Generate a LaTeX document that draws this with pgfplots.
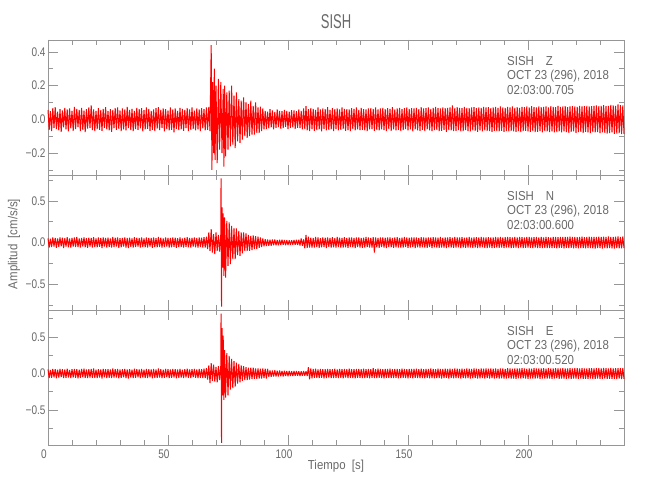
\documentclass[border=0pt]{standalone}
\usepackage{pgfplots}
\pgfplotsset{compat=1.18}
\usepackage{fontspec}
\setmainfont{Liberation Sans}[FakeStretch=0.8]
\newfontfamily\titlefont{Liberation Sans}[FakeStretch=0.65]
\newfontfamily\infofont{Liberation Sans}[FakeStretch=0.88]
\definecolor{axgray}{RGB}{150,150,150}
\definecolor{txtgray}{RGB}{105,105,105}
\newcommand\tsz{\fontsize{12.5}{14}\selectfont}
\newcommand\isz{\infofont\fontsize{13}{15}\selectfont}
\pgfplotsset{
  seis/.style={
    width=576pt, height=135pt, scale only axis, anchor=south west,
    xmin=0, xmax=240, clip=false,
    axis line style={draw=axgray, line width=0.6pt},
    every tick/.style={draw=axgray, line width=0.6pt},
    major tick length=10pt, minor tick length=5pt,
    tick align=inside, xtick pos=both, ytick pos=both,
    xtick={0,50,100,150,200}, minor xtick={0,10,...,240},
    tick label style={font=\tsz, text=txtgray},
    yticklabel style={xshift=1pt},
    xticklabel style={xshift=-4pt, yshift=-1pt},
  },
  trace/.style={color=red, draw=red, mark=none, line width=1.0pt, line join=bevel},
}
\begin{document}
\begin{tikzpicture}[x=1pt,y=1pt]
\useasboundingbox (0,0) rectangle (650,500);
% ---------------- Panel 1 : Z
\begin{axis}[seis, at={(48pt,325pt)},
  ymin=-0.33, ymax=0.47,
  ytick={-0.2,0,0.2,0.4}, yticklabels={−0.2,0.0,0.2,0.4},
  minor ytick={-0.3,-0.1,0.1,0.3}, xticklabels={}]
\addplot[trace] coordinates {
(0,.055)(0.5,-.062)(1,.048)(1.5,-.07)(2,.066)(2.5,-.05)(3,.072)(3.5,-.058)(4,.045)(4.5,-.066)(5,.06)(5.5,-.074)(6,.052)(6.5,-.048)(7,.068)(7.5,-.06)(8,.058)(8.5,-.072)(9,.064)(9.5,-.054)
(10,.05)(10.5,-.068)(11,.074)(11.5,-.058)(12,.062)(12.5,-.046)(13,.056)(13.5,-.07)(14,.068)(14.5,-.062)(15,.052)(15.5,-.076)(16,.06)(16.5,-.055)(17,.07)(17.5,-.05)(18,.082)(18.5,-.064)(19,.058)(19.5,-.07)
(20,.05)(20.5,-.058)(21,.066)(21.5,-.062)(22,.054)(22.5,-.068)(23,.062)(23.5,-.05)(24,.072)(24.5,-.06)(25,.048)(25.5,-.066)(26,.06)(26.5,-.074)(27,.056)(27.5,-.052)(28,.066)(28.5,-.062)(29,.07)(29.5,-.056)
(30,.052)(30.5,-.07)(31,.064)(31.5,-.06)(32,.058)(32.5,-.066)(33,.074)(33.5,-.052)(34,.056)(34.5,-.064)(35,.062)(35.5,-.07)(36,.05)(36.5,-.058)(37,.068)(37.5,-.062)(38,.06)(38.5,-.054)(39,.066)(39.5,-.072)
(40,.054)(40.5,-.06)(41,.07)(41.5,-.056)(42,.062)(42.5,-.068)(43,.05)(43.5,-.062)(44,.058)(44.5,-.07)(45,.066)(45.5,-.055)(46,.072)(46.5,-.064)(47,.056)(47.5,-.05)(48,.064)(48.5,-.072)(49,.06)(49.5,-.058)
(50,.052)(50.5,-.066)(51,.07)(51.5,-.062)(52,.058)(52.5,-.078)(53,.064)(53.5,-.056)(54,.05)(54.5,-.064)(55,.068)(55.5,-.06)(56,.062)(56.5,-.068)(57,.056)(57.5,-.052)(58,.066)(58.5,-.07)(59,.058)(59.5,-.062)
(60,.07)(60.5,-.056)(61,.052)(61.5,-.066)(62,.064)(62.5,-.06)(63,.058)(63.5,-.07)(64,.066)(64.5,-.054)(65,.06)(65.5,-.066)(66,.07)(66.5,-.062)(67,.074)(67.5,-.07)
(68,.44)(68.3,-.30)(68.6,.22)(69,-.20)(69.3,.30)(69.6,-.24)(70,.20)(70.5,-.26)(71,.24)(71.5,-.18)(72,.22)(72.5,-.20)(73,.18)(73.3,-.28)(73.6,.20)(74,-.22)(74.5,.16)(75,-.18)(75.5,.17)(76,-.16)
(76.5,.20)(77,-.15)(77.5,.14)(78,-.17)(78.5,.16)(79,-.13)(79.5,.12)(80,-.14)(80.5,.11)(81,-.12)(81.5,.13)(82,-.10)(82.5,.10)(83,-.11)(83.5,.09)(84,-.10)(84.5,.11)(85,-.09)(85.5,.08)(86,-.09)
(86.5,.10)(87,-.08)(87.5,.07)(88,-.08)(88.5,.075)(89,-.07)(89.5,.065)(90,-.06)
(90.5,.05)(91,-.058)(91.5,.046)(92,-.054)(92.5,.06)(93,-.048)(93.5,.052)(94,-.06)(94.5,.044)(95,-.05)(95.5,.058)(96,-.046)(96.5,.05)(97,-.056)(97.5,.048)(98,-.052)(98.5,.056)(99,-.044)(99.5,.05)(100,-.058)
(100.5,.046)(101,-.05)(101.5,.054)(102,-.048)(102.5,.052)(103,-.056)(103.5,.048)(104,-.05)(104.5,.058)(105,-.052)(105.5,.05)(106,-.06)(106.5,.064)(107,-.058)(107.5,.078)(108,-.066)(108.5,.06)(109,-.07)(109.5,.066)(110,-.058)
(110.5,.062)(111,-.068)(111.5,.056)(112,-.064)(112.5,.07)(113,-.06)(113.5,.058)(114,-.072)(114.5,.064)(115,-.056)(115.5,.06)(116,-.066)(116.5,.072)(117,-.062)(117.5,.056)(118,-.06)(118.5,.066)(119,-.07)(119.5,.06)(120,-.058)
(120.5,.064)(121,-.066)(121.5,.058)(122,-.062)(122.5,.07)(123,-.056)(123.5,.062)(124,-.068)(124.5,.06)(125,-.064)(125.5,.058)(126,-.07)(126.5,.066)(127,-.058)(127.5,.062)(128,-.066)(128.5,.07)(129,-.06)(129.5,.056)(130,-.064)
(130.5,.068)(131,-.062)(131.5,.06)(132,-.066)(132.5,.058)(133,-.07)(133.5,.064)(134,-.06)(134.5,.066)(135,-.058)(135.5,.062)(136,-.068)(136.5,.07)(137,-.062)(137.5,.058)(138,-.066)(138.5,.064)(139,-.06)(139.5,.068)(140,-.064)
(140.5,.06)(141,-.07)(141.5,.066)(142,-.058)(142.5,.062)(143,-.068)(143.5,.072)(144,-.06)(144.5,.058)(145,-.066)(145.5,.064)(146,-.062)(146.5,.068)(147,-.07)(147.5,.06)(148,-.064)(148.5,.066)(149,-.058)(149.5,.07)(150,-.066)
(150.5,.062)(151,-.06)(151.5,.066)(152,-.072)(152.5,.064)(153,-.06)(153.5,.068)(154,-.066)(154.5,.06)(155,-.068)(155.5,.072)(156,-.062)(156.5,.064)(157,-.07)(157.5,.066)(158,-.06)(158.5,.07)(159,-.066)(159.5,.062)(160,-.07)
(160.5,.068)(161,-.064)(161.5,.074)(162,-.062)(162.5,.066)(163,-.07)(163.5,.064)(164,-.068)(164.5,.07)(165,-.062)(165.5,.066)(166,-.074)(166.5,.068)(167,-.064)(167.5,.07)(168,-.066)(168.5,.082)(169,-.07)(169.5,.066)(170,-.068)
(170.5,.072)(171,-.064)(171.5,.068)(172,-.072)(172.5,.066)(173,-.07)(173.5,.074)(174,-.064)(174.5,.068)(175,-.07)(175.5,.066)(176,-.072)(176.5,.07)(177,-.066)(177.5,.072)(178,-.068)(178.5,.066)(179,-.074)(179.5,.07)(180,-.066)
(180.5,.068)(181,-.072)(181.5,.074)(182,-.066)(182.5,.07)(183,-.068)(183.5,.072)(184,-.07)(184.5,.066)(185,-.074)(185.5,.07)(186,-.068)(186.5,.074)(187,-.07)(187.5,.068)(188,-.072)(188.5,.076)(189,-.068)(189.5,.07)(190,-.074)
(190.5,.068)(191,-.07)(191.5,.074)(192,-.072)(192.5,.07)(193,-.068)(193.5,.076)(194,-.072)(194.5,.068)(195,-.074)(195.5,.072)(196,-.07)(196.5,.068)(197,-.076)(197.5,.074)(198,-.07)(198.5,.072)(199,-.068)(199.5,.076)(200,-.072)
(200.5,.07)(201,-.074)(201.5,.078)(202,-.07)(202.5,.072)(203,-.076)(203.5,.07)(204,-.074)(204.5,.076)(205,-.07)(205.5,.072)(206,-.078)(206.5,.074)(207,-.07)(207.5,.076)(208,-.072)(208.5,.07)(209,-.076)(209.5,.078)(210,-.072)
(210.5,.074)(211,-.078)(211.5,.072)(212,-.076)(212.5,.08)(213,-.072)(213.5,.074)(214,-.078)(214.5,.076)(215,-.072)(215.5,.078)(216,-.076)(216.5,.072)(217,-.08)(217.5,.076)(218,-.074)(218.5,.078)(219,-.072)(219.5,.076)(220,-.08)
(220.5,.074)(221,-.076)(221.5,.08)(222,-.074)(222.5,.076)(223,-.08)(223.5,.078)(224,-.074)(224.5,.08)(225,-.078)(225.5,.076)(226,-.082)(226.5,.078)(227,-.076)(227.5,.08)(228,-.078)(228.5,.082)(229,-.076)(229.5,.078)(230,-.082)
(230.5,.08)(231,-.078)(231.5,.084)(232,-.08)(232.5,.078)(233,-.084)(233.5,.08)(234,-.082)(234.5,.086)(235,-.078)(235.5,.082)(236,-.086)(236.5,.08)(237,-.084)(237.5,.088)(238,-.082)(238.5,.084)(239,-.088)(239.5,.082)(240,-.086)
};
\end{axis}
% ---------------- Panel 2 : N
\begin{axis}[seis, at={(48pt,190pt)},
  ymin=-0.81, ymax=0.81,
  ytick={-0.5,0,0.5}, yticklabels={−0.5,0.0,0.5},
  minor ytick={-0.75,-0.25,0.25,0.75}, xticklabels={}]
\addplot[trace] coordinates {
(0,.05)(0.5,-.06)(1,.045)(1.5,-.055)(2,.062)(2.5,-.048)(3,.056)(3.5,-.064)(4,.05)(4.5,-.052)(5,.06)(5.5,-.046)(6,.058)(6.5,-.066)(7,.052)(7.5,-.05)(8,.064)(8.5,-.058)(9,.048)(9.5,-.062)
(10,.056)(10.5,-.05)(11,.06)(11.5,-.054)(12,.068)(12.5,-.056)(13,.05)(13.5,-.06)(14,.054)(14.5,-.048)(15,.062)(15.5,-.058)(16,.052)(16.5,-.064)(17,.058)(17.5,-.05)(18,.056)(18.5,-.06)(19,.064)(19.5,-.054)
(20,.05)(20.5,-.058)(21,.06)(21.5,-.052)(22,.056)(22.5,-.066)(23,.062)(23.5,-.05)(24,.054)(24.5,-.06)(25,.058)(25.5,-.056)(26,.05)(26.5,-.062)(27,.066)(27.5,-.054)(28,.058)(28.5,-.05)(29,.06)(29.5,-.064)
(30,.052)(30.5,-.058)(31,.056)(31.5,-.05)(32,.062)(32.5,-.06)(33,.054)(33.5,-.068)(34,.058)(34.5,-.052)(35,.05)(35.5,-.06)(36,.064)(36.5,-.056)(37,.058)(37.5,-.05)(38,.054)(38.5,-.062)(39,.06)(39.5,-.054)
(40,.05)(40.5,-.058)(41,.062)(41.5,-.06)(42,.056)(42.5,-.05)(43,.054)(43.5,-.064)(44,.06)(44.5,-.056)(45,.052)(45.5,-.058)(46,.066)(46.5,-.054)(47,.058)(47.5,-.06)(48,.05)(48.5,-.056)(49,.062)(49.5,-.05)
(50,.056)(50.5,-.062)(51,.054)(51.5,-.058)(52,.06)(52.5,-.052)(53,.058)(53.5,-.064)(54,.052)(54.5,-.056)(55,.062)(55.5,-.054)(56,.05)(56.5,-.06)(57,.058)(57.5,-.052)(58,.064)(58.5,-.058)(59,.054)(59.5,-.06)
(60,.056)(60.5,-.05)(61,.062)(61.5,-.058)(62,.054)(62.5,-.062)(63,.06)(63.5,-.056)(64,.058)(64.5,-.06)(65,.064)(65.5,-.062)(66,.07)(66.5,-.08)(67,.12)(67.5,-.10)(68,.16)(68.5,-.12)(69,.10)(69.5,-.14)
(70,.12)(70.5,-.10)(71,.09)(71.5,-.11)(72,.10)(72.1,.77)(72.3,-.77)(72.5,.42)(72.8,-.30)(73,.35)(73.3,-.40)(73.6,.30)(74,-.42)(74.5,.26)(75,-.28)(75.5,.24)(76,-.26)(76.5,.20)(77,-.20)(77.5,.17)
(78,-.20)(78.5,.17)(79,-.15)(79.5,.14)(80,-.16)(80.5,.12)(81,-.13)(81.5,.12)(82,-.10)(82.5,.11)(83,-.10)(83.5,.09)(84,-.10)(84.5,.08)(85,-.09)(85.5,.085)(86,-.08)(86.5,.075)(87,-.08)(87.5,.07)
(88,-.065)(88.5,.06)(89,-.055)(89.5,.05)(90,-.045)(90.5,.04)(91,-.042)(91.5,.036)(92,-.04)(92.5,.034)(93,-.038)(93.5,.035)(94,-.032)(94.5,.036)(95,-.034)(95.5,.03)(96,-.034)(96.5,.032)(97,-.03)(97.5,.034)
(98,-.028)(98.5,.03)(99,-.032)(99.5,.028)(100,-.03)(100.5,.026)(101,-.03)(101.5,.028)(102,-.026)(102.5,.03)(103,-.028)(103.5,.032)(104,-.03)(104.5,.034)(105,-.036)(105.5,.05)(106,-.04)(106.5,.038)(107,-.07)(107.5,.09)
(108,-.064)(108.5,.07)(109,-.06)(109.5,.058)(110,-.062)(110.5,.054)(111,-.06)(111.5,.066)(112,-.056)(112.5,.06)(113,-.064)(113.5,.052)(114,-.058)(114.5,.062)(115,-.054)(115.5,.058)(116,-.066)(116.5,.06)(117,-.052)(117.5,.056)
(118,-.062)(118.5,.064)(119,-.058)(119.5,.052)(120,-.06)(120.5,.066)(121,-.056)(121.5,.058)(122,-.062)(122.5,.054)(123,-.06)(123.5,.064)(124,-.058)(124.5,.056)(125,-.064)(125.5,.06)(126,-.054)(126.5,.062)(127,-.058)(127.5,.056)
(128,-.066)(128.5,.06)(129,-.056)(129.5,.062)(130,-.06)(130.5,.054)(131,-.064)(131.5,.058)(132,-.06)(132.5,.066)(133,-.056)(133.5,.06)(134,-.062)(134.5,.056)(135,-.06)(135.5,.064)(136,-.12)(136.5,.062)(137,-.058)(137.5,.056)
(138,-.064)(138.5,.06)(139,-.056)(139.5,.062)(140,-.06)(140.5,.058)(141,-.066)(141.5,.06)(142,-.054)(142.5,.062)(143,-.058)(143.5,.056)(144,-.064)(144.5,.06)(145,-.058)(145.5,.064)(146,-.06)(146.5,.056)(147,-.062)(147.5,.058)
(148,-.06)(148.5,.066)(149,-.056)(149.5,.06)(150,-.064)(150.5,.058)(151,-.06)(151.5,.062)(152,-.056)(152.5,.06)(153,-.066)(153.5,.062)(154,-.058)(154.5,.056)(155,-.062)(155.5,.064)(156,-.058)(156.5,.06)(157,-.062)(157.5,.058)
(158,-.064)(158.5,.062)(159,-.056)(159.5,.06)(160,-.066)(160.5,.064)(161,-.058)(161.5,.06)(162,-.062)(162.5,.058)(163,-.064)(163.5,.066)(164,-.06)(164.5,.058)(165,-.062)(165.5,.06)(166,-.066)(166.5,.062)(167,-.058)(167.5,.064)
(168,-.06)(168.5,.058)(169,-.064)(169.5,.066)(170,-.06)(170.5,.062)(171,-.058)(171.5,.06)(172,-.066)(172.5,.064)(173,-.06)(173.5,.058)(174,-.064)(174.5,.062)(175,-.06)(175.5,.066)(176,-.062)(176.5,.058)(177,-.064)(177.5,.062)
(178,-.06)(178.5,.064)(179,-.066)(179.5,.06)(180,-.062)(180.5,.066)(181,-.058)(181.5,.062)(182,-.064)(182.5,.06)(183,-.066)(183.5,.064)(184,-.06)(184.5,.062)(185,-.066)(185.5,.06)(186,-.064)(186.5,.066)(187,-.06)(187.5,.062)
(188,-.064)(188.5,.068)(189,-.062)(189.5,.06)(190,-.066)(190.5,.064)(191,-.062)(191.5,.066)(192,-.06)(192.5,.064)(193,-.068)(193.5,.062)(194,-.064)(194.5,.066)(195,-.062)(195.5,.06)(196,-.066)(196.5,.068)(197,-.062)(197.5,.064)
(198,-.066)(198.5,.062)(199,-.064)(199.5,.068)(200,-.062)(200.5,.066)(201,-.064)(201.5,.062)(202,-.068)(202.5,.064)(203,-.062)(203.5,.066)(204,-.068)(204.5,.062)(205,-.064)(205.5,.068)(206,-.066)(206.5,.062)(207,-.064)(207.5,.068)
(208,-.066)(208.5,.064)(209,-.068)(209.5,.062)(210,-.066)(210.5,.068)(211,-.064)(211.5,.066)(212,-.07)(212.5,.064)(213,-.066)(213.5,.068)(214,-.064)(214.5,.066)(215,-.07)(215.5,.068)(216,-.064)(216.5,.066)(217,-.068)(217.5,.07)
(218,-.064)(218.5,.066)(219,-.07)(219.5,.068)(220,-.066)(220.5,.064)(221,-.07)(221.5,.068)(222,-.066)(222.5,.07)(223,-.068)(223.5,.064)(224,-.07)(224.5,.068)(225,-.066)(225.5,.07)(226,-.068)(226.5,.066)(227,-.07)(227.5,.068)
(228,-.072)(228.5,.066)(229,-.068)(229.5,.07)(230,-.066)(230.5,.068)(231,-.072)(231.5,.07)(232,-.066)(232.5,.068)(233,-.07)(233.5,.072)(234,-.068)(234.5,.066)(235,-.07)(235.5,.068)(236,-.072)(236.5,.07)(237,-.068)(237.5,.072)
(238,-.07)(238.5,.066)(239,-.07)(239.5,.072)(240,-.068)
};
\end{axis}
% ---------------- Panel 3 : E
\begin{axis}[seis, at={(48pt,55pt)},
  ymin=-0.98, ymax=0.87,
  ytick={-0.5,0,0.5}, yticklabels={−0.5,0.0,0.5},
  minor ytick={-0.75,-0.25,0.25,0.75},
  xticklabels={0,50,100,150,200}]
\addplot[trace] coordinates {
(0,.056)(0.5,-.062)(1,.05)(1.5,-.058)(2,.064)(2.5,-.054)(3,.06)(3.5,-.066)(4,.052)(4.5,-.056)(5,.062)(5.5,-.05)(6,.058)(6.5,-.064)(7,.054)(7.5,-.06)(8,.066)(8.5,-.056)(9,.05)(9.5,-.062)
(10,.058)(10.5,-.054)(11,.064)(11.5,-.058)(12,.06)(12.5,-.066)(13,.052)(13.5,-.058)(14,.062)(14.5,-.052)(15,.066)(15.5,-.06)(16,.054)(16.5,-.064)(17,.058)(17.5,-.056)(18,.062)(18.5,-.06)(19,.068)(19.5,-.058)
(20,.052)(20.5,-.062)(21,.06)(21.5,-.054)(22,.056)(22.5,-.068)(23,.064)(23.5,-.052)(24,.058)(24.5,-.062)(25,.06)(25.5,-.058)(26,.054)(26.5,-.064)(27,.068)(27.5,-.056)(28,.06)(28.5,-.054)(29,.062)(29.5,-.066)
(30,.054)(30.5,-.06)(31,.058)(31.5,-.052)(32,.064)(32.5,-.062)(33,.056)(33.5,-.07)(34,.06)(34.5,-.054)(35,.052)(35.5,-.062)(36,.066)(36.5,-.058)(37,.06)(37.5,-.052)(38,.056)(38.5,-.064)(39,.062)(39.5,-.056)
(40,.052)(40.5,-.06)(41,.064)(41.5,-.062)(42,.058)(42.5,-.052)(43,.056)(43.5,-.066)(44,.062)(44.5,-.058)(45,.054)(45.5,-.06)(46,.068)(46.5,-.056)(47,.06)(47.5,-.062)(48,.052)(48.5,-.058)(49,.064)(49.5,-.052)
(50,.058)(50.5,-.064)(51,.056)(51.5,-.06)(52,.062)(52.5,-.054)(53,.06)(53.5,-.066)(54,.054)(54.5,-.058)(55,.064)(55.5,-.056)(56,.052)(56.5,-.062)(57,.06)(57.5,-.054)(58,.066)(58.5,-.06)(59,.056)(59.5,-.062)
(60,.058)(60.5,-.052)(61,.064)(61.5,-.06)(62,.056)(62.5,-.064)(63,.062)(63.5,-.058)(64,.06)(64.5,-.062)(65,.066)(65.5,-.064)(66,.072)(66.5,-.085)(67,.11)(67.5,-.13)(68,.14)(68.5,-.10)(69,.12)(69.5,-.11)
(70,.09)(70.5,-.12)(71,.10)(71.5,-.09)(72,.11)(72.1,.82)(72.3,-.95)(72.5,.62)(72.8,-.30)(73,.52)(73.3,-.36)(73.6,.32)(74,-.33)(74.5,.28)(75,-.30)(75.5,.24)(76,-.22)(76.5,.20)(77,-.20)(77.5,.17)
(78,-.18)(78.5,.15)(79,-.14)(79.5,.13)(80,-.12)(80.5,.11)(81,-.10)(81.5,.10)(82,-.09)(82.5,.085)(83,-.09)(83.5,.08)(84,-.085)(84.5,.08)(85,-.075)(85.5,.078)(86,-.072)(86.5,.07)(87,-.074)(87.5,.068)
(88,-.07)(88.5,.066)(89,-.07)(89.5,.068)(90,-.064)(90.5,.066)(91,-.07)(91.5,.064)(92,-.045)(92.5,.042)(93,-.044)(93.5,.04)(94,-.042)(94.5,.044)(95,-.04)(95.5,.038)(96,-.042)(96.5,.04)(97,-.038)(97.5,.036)
(98,-.04)(98.5,.038)(99,-.036)(99.5,.034)(100,-.038)(100.5,.036)(101,-.034)(101.5,.032)(102,-.036)(102.5,.034)(103,-.032)(103.5,.034)(104,-.03)(104.5,.032)(105,-.034)(105.5,.03)(106,-.032)(106.5,.034)(107,-.03)(107.5,.032)
(108,-.034)(108.5,.085)(109,-.08)(109.5,.07)(110,-.066)(110.5,.062)(111,-.058)(111.5,.066)(112,-.06)(112.5,.056)(113,-.064)(113.5,.062)(114,-.058)(114.5,.06)(115,-.066)(115.5,.058)(116,-.062)(116.5,.064)(117,-.056)(117.5,.06)
(118,-.064)(118.5,.058)(119,-.062)(119.5,.066)(120,-.06)(120.5,.056)(121,-.062)(121.5,.064)(122,-.058)(122.5,.06)(123,-.066)(123.5,.062)(124,-.056)(124.5,.058)(125,-.064)(125.5,.066)(126,-.06)(126.5,.058)(127,-.062)(127.5,.06)
(128,-.066)(128.5,.062)(129,-.058)(129.5,.064)(130,-.06)(130.5,.058)(131,-.064)(131.5,.066)(132,-.062)(132.5,.058)(133,-.06)(133.5,.064)(134,-.066)(134.5,.06)(135,-.058)(135.5,.074)(136,-.064)(136.5,.06)(137,-.062)(137.5,.066)
(138,-.058)(138.5,.062)(139,-.064)(139.5,.06)(140,-.066)(140.5,.064)(141,-.058)(141.5,.062)(142,-.06)(142.5,.066)(143,-.064)(143.5,.058)(144,-.062)(144.5,.064)(145,-.06)(145.5,.062)(146,-.066)(146.5,.06)(147,-.064)(147.5,.066)
(148,-.058)(148.5,.062)(149,-.064)(149.5,.06)(150,-.066)(150.5,.064)(151,-.06)(151.5,.062)(152,-.066)(152.5,.064)(153,-.06)(153.5,.066)(154,-.062)(154.5,.06)(155,-.064)(155.5,.066)(156,-.062)(156.5,.06)(157,-.066)(157.5,.064)
(158,-.06)(158.5,.062)(159,-.066)(159.5,.068)(160,-.062)(160.5,.064)(161,-.066)(161.5,.06)(162,-.064)(162.5,.066)(163,-.062)(163.5,.064)(164,-.068)(164.5,.062)(165,-.064)(165.5,.066)(166,-.06)(166.5,.064)(167,-.068)(167.5,.066)
(168,-.062)(168.5,.064)(169,-.066)(169.5,.068)(170,-.062)(170.5,.066)(171,-.064)(171.5,.062)(172,-.068)(172.5,.066)(173,-.064)(173.5,.062)(174,-.066)(174.5,.068)(175,-.064)(175.5,.066)(176,-.068)(176.5,.062)(177,-.066)(177.5,.068)
(178,-.064)(178.5,.066)(179,-.07)(179.5,.064)(180,-.066)(180.5,.068)(181,-.064)(181.5,.066)(182,-.07)(182.5,.068)(183,-.064)(183.5,.066)(184,-.068)(184.5,.07)(185,-.064)(185.5,.066)(186,-.07)(186.5,.068)(187,-.066)(187.5,.064)
(188,-.07)(188.5,.068)(189,-.066)(189.5,.07)(190,-.068)(190.5,.064)(191,-.07)(191.5,.072)(192,-.066)(192.5,.068)(193,-.07)(193.5,.066)(194,-.068)(194.5,.07)(195,-.072)(195.5,.068)(196,-.066)(196.5,.07)(197,-.068)(197.5,.072)
(198,-.066)(198.5,.068)(199,-.07)(199.5,.066)(200,-.072)(200.5,.07)(201,-.068)(201.5,.066)(202,-.07)(202.5,.072)(203,-.068)(203.5,.07)(204,-.066)(204.5,.068)(205,-.072)(205.5,.07)(206,-.068)(206.5,.072)(207,-.07)(207.5,.066)
(208,-.07)(208.5,.072)(209,-.068)(209.5,.07)(210,-.072)(210.5,.068)(211,-.07)(211.5,.072)(212,-.066)(212.5,.07)(213,-.072)(213.5,.068)(214,-.07)(214.5,.074)(215,-.07)(215.5,.068)(216,-.072)(216.5,.07)(217,-.068)(217.5,.072)
(218,-.074)(218.5,.07)(219,-.068)(219.5,.072)(220,-.07)(220.5,.074)(221,-.072)(221.5,.068)(222,-.07)(222.5,.072)(223,-.074)(223.5,.07)(224,-.072)(224.5,.068)(225,-.074)(225.5,.072)(226,-.07)(226.5,.074)(227,-.072)(227.5,.07)
(228,-.074)(228.5,.072)(229,-.068)(229.5,.074)(230,-.072)(230.5,.07)(231,-.074)(231.5,.076)(232,-.07)(232.5,.072)(233,-.074)(233.5,.07)(234,-.072)(234.5,.076)(235,-.074)(235.5,.07)(236,-.072)(236.5,.074)(237,-.076)(237.5,.072)
(238,-.07)(238.5,.074)(239,-.076)(239.5,.072)(240,-.074)
};
\end{axis}
% ---------------- texts
\begin{scope}[every node/.style={text=txtgray, inner sep=0pt}]
\node[anchor=base, font=\titlefont\fontsize{20}{22}\selectfont] at (336,471) {SISH};
\node[anchor=base, font=\isz] at (336,30) {Tiempo\ \ [s]};
\node[rotate=90, font=\isz] at (14,256) {Amplitud\ \ [cm/s/s]};
\foreach \comp/\tim/\yb in {Z/02:03:00.705/434, N/02:03:00.600/299, E/02:03:00.520/164}{
  \node[anchor=base west, font=\isz] at (507,\yb) {SISH\hspace{12pt}\comp};
  \node[anchor=base west, font=\isz] at (507,\yb-13.5) {OCT 23 (296), 2018};
  \node[anchor=base west, font=\isz] at (507,\yb-29) {\tim};
}
\end{scope}
\end{tikzpicture}
\end{document}
